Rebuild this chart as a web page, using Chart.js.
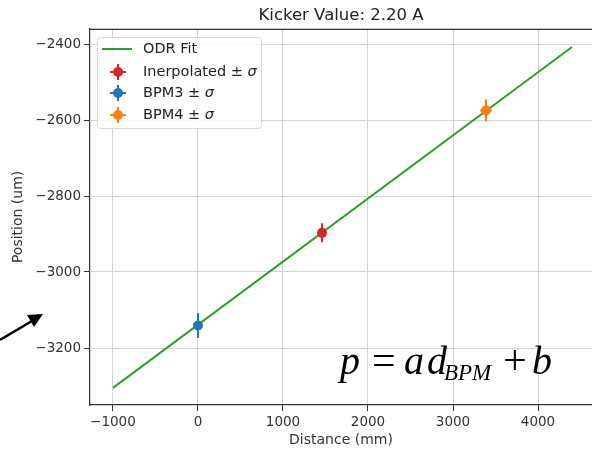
<!DOCTYPE html>
<html>
<head>
<meta charset="utf-8">
<script src="https://cdn.jsdelivr.net/npm/chart.js@4/dist/chart.umd.min.js"></script>
<style>
  body { margin: 0; background: #fff; }
  #wrap { width: 592px; height: 449px; }
</style>
</head>
<body>
<div id="wrap"><canvas id="chart" width="592" height="449"></canvas></div>
<script>
// fit line end points (mm, um)
const fitX = [-1000, 4400];
const fitY = [-3305, -2408];

// measured points with errors
const pointLabels = ['Inerpolated', 'BPM3', 'BPM4'];
const pointColors = ['#d62728', '#1f77b4', '#ff7f0e'];
const pointX = [1459, 0, 3388];
const pointY = [-2897, -3141, -2575];
const pointXErr = [30, 20, 70];
const pointYErr = [25, 33, 29];

// axis ticks
const xTicks = [-1000, 0, 1000, 2000, 3000, 4000];
const yTicks = [-3200, -3000, -2800, -2600, -2400];

const fontSans = 'DejaVu Sans';
const minus = v => String(v).replace('-', '\u2212');

const datasets = [{
    label: 'ODR Fit',
    data: fitX.map((x, i) => ({ x: x, y: fitY[i] })),
    showLine: true,
    borderColor: '#2ca02c',
    borderWidth: 2,
    pointRadius: 0,
    order: 2
}];
pointLabels.forEach((name, i) => {
    datasets.push({
        label: name,
        data: [{ x: pointX[i], y: pointY[i], xErr: pointXErr[i], yErr: pointYErr[i] }],
        backgroundColor: pointColors[i],
        borderColor: pointColors[i],
        pointRadius: 5,
        pointBorderWidth: 0,
        order: 1
    });
});

// error bars, spines, legend and annotations
const extras = {
    id: 'extras',
    beforeDatasetsDraw(chart) {
        const { ctx } = chart;
        const sx = chart.scales.x, sy = chart.scales.y;
        ctx.save();
        ctx.lineWidth = 2;
        chart.data.datasets.forEach(ds => {
            ds.data.forEach(p => {
                if (p.yErr === undefined) return;
                const cx = sx.getPixelForValue(p.x), cy = sy.getPixelForValue(p.y);
                ctx.strokeStyle = ds.borderColor;
                ctx.beginPath();
                ctx.moveTo(cx, sy.getPixelForValue(p.y - p.yErr));
                ctx.lineTo(cx, sy.getPixelForValue(p.y + p.yErr));
                ctx.moveTo(sx.getPixelForValue(p.x - p.xErr), cy);
                ctx.lineTo(sx.getPixelForValue(p.x + p.xErr), cy);
                ctx.stroke();
            });
        });
        ctx.restore();
    },
    afterDraw(chart) {
        const { ctx, chartArea } = chart;
        ctx.save();
        // top spine
        ctx.strokeStyle = '#333';
        ctx.lineWidth = 1.2;
        ctx.beginPath();
        ctx.moveTo(chartArea.left, chartArea.top + 0.5);
        ctx.lineTo(chartArea.right, chartArea.top + 0.5);
        ctx.stroke();

        // legend
        const lx = 97, ly = 37, lw = 164, lh = 91;
        ctx.fillStyle = 'rgba(255,255,255,0.85)';
        ctx.strokeStyle = '#d8d8d8';
        ctx.lineWidth = 1;
        ctx.beginPath();
        ctx.roundRect(lx + 0.5, ly + 0.5, lw, lh, 3);
        ctx.fill();
        ctx.stroke();
        const rows = [49, 72, 93, 115];
        ctx.textBaseline = 'middle';
        chart.data.datasets.forEach((ds, i) => {
            const y = rows[i];
            if (i === 0) {
                ctx.strokeStyle = ds.borderColor;
                ctx.lineWidth = 2;
                ctx.beginPath();
                ctx.moveTo(102, y);
                ctx.lineTo(132, y);
                ctx.stroke();
            } else {
                ctx.strokeStyle = ds.borderColor;
                ctx.fillStyle = ds.backgroundColor;
                ctx.lineWidth = 2;
                ctx.beginPath();
                ctx.moveTo(118, y - 8);
                ctx.lineTo(118, y + 8);
                ctx.moveTo(110, y);
                ctx.lineTo(126, y);
                ctx.stroke();
                ctx.beginPath();
                ctx.arc(118, y, 5, 0, Math.PI * 2);
                ctx.fill();
            }
            ctx.fillStyle = '#222';
            ctx.font = '14.5px "' + fontSans + '"';
            const text = i === 0 ? ds.label : ds.label + ' \u00b1 ';
            ctx.fillText(text, 143, y);
            if (i > 0) {
                const w = ctx.measureText(text).width;
                ctx.font = 'italic 14.5px "' + fontSans + '"';
                ctx.fillText('\u03c3', 143 + w, y);
            }
        });

        // formula
        ctx.fillStyle = '#000';
        ctx.textBaseline = 'alphabetic';
        const serif = '"Liberation Serif"';
        const parts = [
            ['italic 40px ' + serif, 'p', 340, 374],
            ['42px ' + serif, '=', 372, 374],
            ['italic 40px ' + serif, 'a', 404, 374],
            ['italic 40px ' + serif, 'd', 427, 374],
            ['italic 23px ' + serif, 'BPM', 444, 380],
            ['42px ' + serif, '+', 503, 374],
            ['italic 40px ' + serif, 'b', 532, 374]
        ];
        parts.forEach(([f, t, px, py]) => {
            ctx.font = f;
            ctx.fillText(t, px, py);
        });

        // arrow
        ctx.strokeStyle = '#000';
        ctx.fillStyle = '#000';
        ctx.lineWidth = 2.5;
        ctx.beginPath();
        ctx.moveTo(0, 340);
        ctx.lineTo(32, 321);
        ctx.stroke();
        ctx.beginPath();
        ctx.moveTo(43, 314);
        ctx.lineTo(27, 315);
        ctx.lineTo(34, 327);
        ctx.closePath();
        ctx.fill();
        ctx.restore();
    }
};

const tickFont = { family: fontSans, size: 13.5 };

new Chart(document.getElementById('chart'), {
    type: 'scatter',
    data: { datasets: datasets },
    options: {
        responsive: false,
        animation: false,
        devicePixelRatio: 1,
        layout: { padding: 0, autoPadding: false },
        plugins: {
            legend: { display: false },
            tooltip: { enabled: false },
            title: {
                display: true,
                fullSize: false,
                text: 'Kicker Value: 2.20 A',
                color: '#222',
                font: { family: fontSans, size: 16.5, weight: 'normal' },
                padding: { top: 6, bottom: 3 }
            }
        },
        scales: {
            x: {
                type: 'linear',
                min: -1270,
                max: 4635,
                afterBuildTicks: s => { s.ticks = xTicks.map(v => ({ value: v })); },
                afterFit: s => { s.height = 44; s.paddingLeft = 0; s.paddingRight = 0; },
                grid: { color: '#d4d4d4', lineWidth: 1, tickColor: '#333', tickLength: 6 },
                border: { color: '#333', width: 1.2 },
                ticks: { color: '#333', font: tickFont, padding: 3, maxRotation: 0, callback: minus },
                title: {
                    display: true,
                    text: 'Distance (mm)',
                    color: '#333',
                    font: { family: fontSans, size: 14 },
                    padding: { top: 0, bottom: 0 }
                }
            },
            y: {
                type: 'linear',
                min: -3350,
                max: -2360,
                afterBuildTicks: s => { s.ticks = yTicks.map(v => ({ value: v })); },
                afterFit: s => { s.width = 90; s.paddingTop = 0; s.paddingBottom = 0; },
                grid: { color: '#d4d4d4', lineWidth: 1, tickColor: '#333', tickLength: 6 },
                border: { color: '#333', width: 1.2 },
                ticks: { color: '#333', font: tickFont, padding: 3, callback: minus },
                title: {
                    display: true,
                    text: 'Position (um)',
                    color: '#333',
                    font: { family: fontSans, size: 14 },
                    padding: { top: 10, bottom: 0 }
                }
            }
        }
    },
    plugins: [extras]
});
</script>
</body>
</html>
